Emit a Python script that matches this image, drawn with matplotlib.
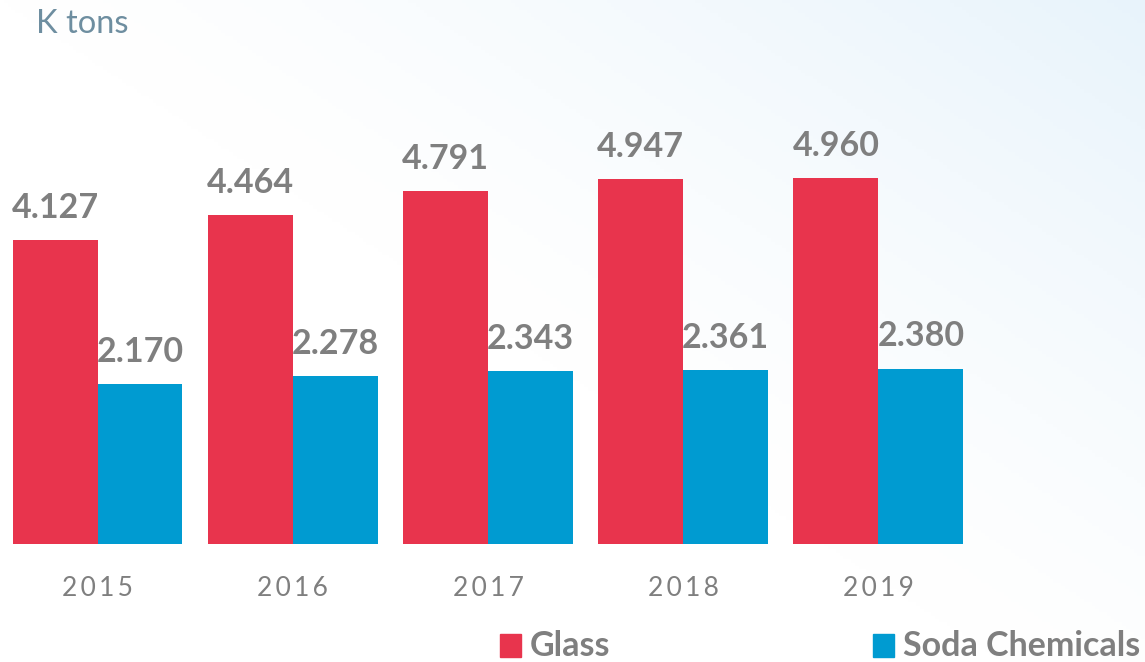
import numpy as np
import matplotlib
matplotlib.use('Agg')
import matplotlib.pyplot as plt
from matplotlib.patches import Rectangle

plt.rcParams['font.family'] = ['Lato', 'DejaVu Sans']

years = ['2015', '2016', '2017', '2018', '2019']
glass = [4.127, 4.464, 4.791, 4.947, 4.960]
soda = [2.170, 2.278, 2.343, 2.361, 2.380]

RED = '#E8344D'
BLUE = '#009BD1'
GRAY = '#7F7F7F'

fig = plt.figure(figsize=(11.45, 6.62), dpi=100)

# faint bluish wash towards the lower right corner
bg = fig.add_axes([0, 0, 1, 1], zorder=-10)
gx, gy = np.meshgrid(np.linspace(0, 1, 300), np.linspace(0, 1, 200))
wash = np.clip((gx * 0.8 + (1 - gy) * 0.7) - 0.7, 0, 1) ** 1.3
img = np.ones((200, 300, 3))
tint = np.array([0.88, 0.94, 0.98])
img = img * (1 - wash[..., None]) + tint * wash[..., None]
bg.imshow(img, aspect='auto', extent=[0, 1, 0, 1], origin='upper')
bg.axis('off')

ax = fig.add_axes([0, 0, 1, 1])
ax.patch.set_alpha(0)
w = 0.4353
x = np.arange(len(years))
ax.bar(x - w / 2, glass, width=w, color=RED, linewidth=0)
ax.bar(x + w / 2, soda, width=w, color=BLUE, linewidth=0)

for i in range(len(years)):
    ax.text(x[i] - w / 2, glass[i] + 0.3, f'{glass[i]:.3f}', ha='center', va='baseline',
            fontsize=24.5, fontweight='bold', color=GRAY)
    ax.text(x[i] + w / 2, soda[i] + 0.3, f'{soda[i]:.3f}', ha='center', va='baseline',
            fontsize=24.5, fontweight='bold', color=GRAY)
    ax.text(x[i], -0.7, '\u2009'.join(years[i]), ha='center', va='baseline',
            fontsize=19, color=GRAY)

ax.set_xlim(-0.4994, 5.365)
ax.set_ylim(-1.601, 7.381)
ax.axis('off')

fig.text(36 / 1145, 1 - 33 / 662, 'K tons', fontsize=23.5, color='#6E8EA0', va='baseline')

# legend
for px, col, label in [(500, RED, 'Glass'), (873, BLUE, 'Soda Chemicals')]:
    fig.patches.append(Rectangle((px / 1145, 1 - 657 / 662), 21 / 1145, 23 / 662,
                                 transform=fig.transFigure, color=col, figure=fig))
    fig.text((px + 30) / 1145, 1 - 656 / 662, label, fontsize=24.5, fontweight='bold',
             color=GRAY, va='baseline')

fig.savefig('out.png', dpi=100)
